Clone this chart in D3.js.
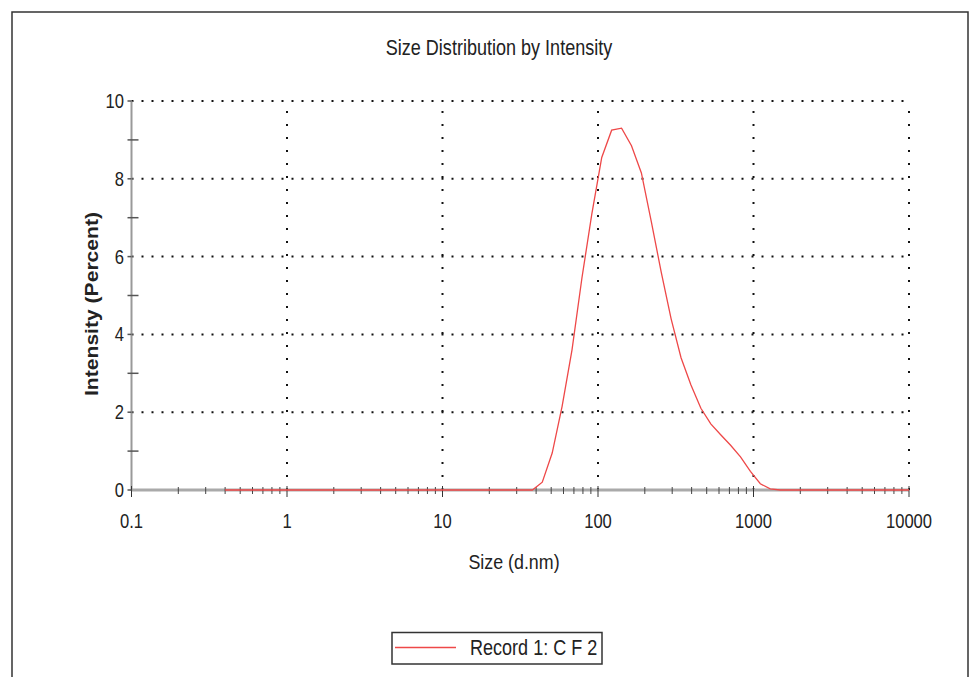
<!DOCTYPE html>
<html>
<head>
<meta charset="utf-8">
<script src="https://cdn.jsdelivr.net/npm/d3@7"></script>
<style>
  html, body { margin: 0; padding: 0; background: #fff; }
  svg { display: block; }
  text { font-family: "Liberation Sans", Arial, sans-serif; fill: #222; }
</style>
</head>
<body>
<svg id="chart" width="971" height="677"></svg>
<script>
// ---- data ----
const sizes = [0.4000, 0.4632, 0.5365, 0.6213, 0.7195, 0.8332, 0.9649,
  1.117, 1.294, 1.499, 1.736, 2.010, 2.328, 2.696, 3.122, 3.615, 4.187, 4.849, 5.615, 6.503, 7.531, 8.721,
  10.10, 11.70, 13.54, 15.69, 18.17, 21.04, 24.36, 28.21, 32.67, 37.84, 43.82, 50.75, 58.77, 68.06, 78.82, 91.28,
  105.7, 122.4, 141.8, 164.2, 190.1, 220.2, 255.0, 295.3, 342.0, 396.1, 458.7, 531.2, 615.1, 712.4, 825.0, 955.4,
  1106, 1281, 1484, 1718, 1990, 2305, 2669, 3091, 3580, 4145, 4801, 5560, 6439, 7456, 8635, 10000];
const intensity = [0, 0, 0, 0, 0, 0, 0,
  0, 0, 0, 0, 0, 0, 0, 0, 0, 0, 0, 0, 0, 0, 0,
  0, 0, 0, 0, 0, 0, 0, 0, 0, 0, 0.2, 0.95, 2.15, 3.6, 5.45, 7.1,
  8.55, 9.25, 9.3, 8.85, 8.15, 6.9, 5.6, 4.4, 3.4, 2.7, 2.1, 1.7, 1.42, 1.15, 0.85, 0.48,
  0.16, 0.03, 0, 0, 0, 0, 0, 0, 0, 0, 0, 0, 0, 0, 0, 0];
const xTickValues = [0.1, 1, 10, 100, 1000, 10000];
const xTickLabels = ["0.1", "1", "10", "100", "1000", "10000"];
const yTickValues = [0, 2, 4, 6, 8, 10];
const yMinorValues = [1, 3, 5, 7, 9];
const titleText = "Size Distribution by Intensity";
const xLabelText = "Size (d.nm)";
const yLabelText = "Intensity (Percent)";
const legendText = "Record 1: C F 2";

// ---- layout ----
const svg = d3.select("#chart");
const L = 131.5, R = 909, T = 101, B = 490;
const x = d3.scaleLog().domain([0.1, 10000]).range([L, R]);
const y = d3.scaleLinear().domain([0, 10]).range([B, T]);
const SX = 0.83; // condensed look

function ctext(g, px, py, str, size, anchor, sx) {
  return g.append("text")
    .attr("transform", `translate(${px},${py}) scale(${sx},1)`)
    .attr("text-anchor", anchor)
    .style("font-size", size + "px")
    .text(str);
}

// frame
svg.append("path")
  .attr("d", `M12,677 L12,12 L968,12 L968,677`)
  .attr("fill", "none").attr("stroke", "#333").attr("stroke-width", 1.5);

// title
ctext(svg, 499, 55, titleText, 22, "middle", 0.82);

// gridlines
const grid = svg.append("g");
grid.selectAll("line.h").data(yTickValues.filter(d => d > 0)).enter().append("line")
  .attr("x1", L).attr("x2", R).attr("y1", d => y(d)).attr("y2", d => y(d))
  .attr("stroke", "#111").attr("stroke-width", 2).attr("stroke-dasharray", "2,8");
grid.selectAll("line.v").data(xTickValues.filter(d => d > 0.1)).enter().append("line")
  .attr("x1", d => x(d)).attr("x2", d => x(d)).attr("y1", B).attr("y2", T)
  .attr("stroke", "#111").attr("stroke-width", 2).attr("stroke-dasharray", "2,11");

// axes
const minorX = [];
for (let e = -1; e < 4; e++) for (let m = 2; m <= 9; m++) minorX.push(m * Math.pow(10, e));
const axisG = svg.append("g");
axisG.append("line").attr("x1", L).attr("x2", R).attr("y1", B).attr("y2", B)
  .attr("stroke", "#aaa").attr("stroke-width", 3);
axisG.append("line").attr("x1", L).attr("x2", L).attr("y1", B + 1).attr("y2", T)
  .attr("stroke", "#999").attr("stroke-width", 2);

// curve
const line = d3.line().x((d, i) => x(sizes[i])).y(d => y(d));
svg.append("path").datum(intensity).attr("d", line)
  .attr("fill", "none").attr("stroke", "#ee4848").attr("stroke-width", 1.3);

axisG.selectAll("line.mx").data(minorX).enter().append("line")
  .attr("x1", d => x(d)).attr("x2", d => x(d)).attr("y1", B - 3).attr("y2", B + 4)
  .attr("stroke", "#444").attr("stroke-width", 1);
axisG.selectAll("line.Mx").data(xTickValues).enter().append("line")
  .attr("x1", d => x(d)).attr("x2", d => x(d)).attr("y1", B - 4).attr("y2", B + 7)
  .attr("stroke", "#333").attr("stroke-width", 1);
axisG.selectAll("line.my").data(yMinorValues).enter().append("line")
  .attr("x1", L - 4).attr("x2", L + 7).attr("y1", d => y(d)).attr("y2", d => y(d))
  .attr("stroke", "#555").attr("stroke-width", 1.5);
axisG.selectAll("line.My").data(yTickValues).enter().append("line")
  .attr("x1", L - 4).attr("x2", L).attr("y1", d => y(d)).attr("y2", d => y(d))
  .attr("stroke", "#555").attr("stroke-width", 1.5);

// tick labels
xTickValues.forEach((d, i) => ctext(svg, x(d), 528, xTickLabels[i], 20, "middle", SX));
yTickValues.forEach(d => ctext(svg, 124, y(d) + 7, String(d), 20, "end", SX));

// axis labels
ctext(svg, 514, 569, xLabelText, 21, "middle", 0.85);
svg.append("text").attr("transform", "translate(98,304) rotate(-90)").attr("text-anchor", "middle")
  .attr("textLength", 184).attr("lengthAdjust", "spacingAndGlyphs")
  .style("font-size", "19px").style("font-weight", "bold").text(yLabelText);

// legend
const lg = svg.append("g");
lg.append("rect").attr("x", 392).attr("y", 632.5).attr("width", 210).attr("height", 31.5)
  .attr("fill", "#fff").attr("stroke", "#333").attr("stroke-width", 1.5);
lg.append("line").attr("x1", 395).attr("x2", 456).attr("y1", 647.5).attr("y2", 647.5)
  .attr("stroke", "#ee4848").attr("stroke-width", 1.5);
ctext(lg, 470, 655, legendText, 22, "start", 0.82);
</script>
</body>
</html>
